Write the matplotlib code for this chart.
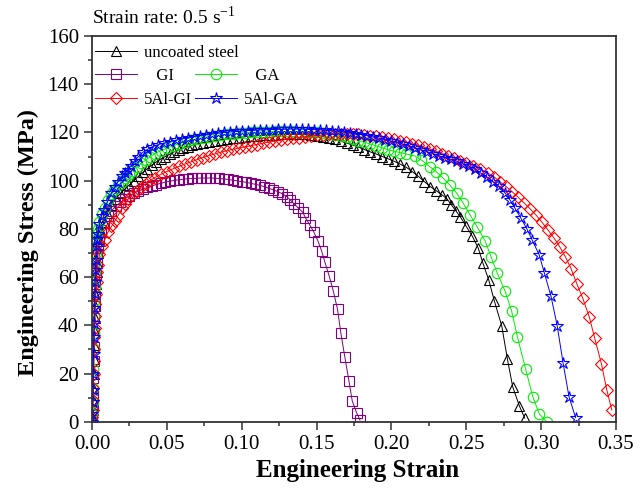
import numpy as np
import matplotlib.pyplot as plt
from matplotlib.ticker import MultipleLocator, FormatStrFormatter

plt.rcParams['font.family'] = ['Liberation Serif', 'DejaVu Serif']
plt.rcParams['mathtext.fontset'] = 'custom'
plt.rcParams['mathtext.rm'] = 'Liberation Serif'

# tensile curves, strain (-) vs stress (MPa)
uncoated_strain = [0.0, 0.0002, 0.0004, 0.0006, 0.0008, 0.001, 0.0012, 0.0014, 0.0016, 0.0018, 0.002, 0.0023,
                   0.0026, 0.003, 0.0035, 0.004, 0.005, 0.006, 0.008, 0.010, 0.013, 0.016, 0.019, 0.022, 0.025,
                   0.028, 0.031, 0.034, 0.037, 0.040, 0.043, 0.046, 0.049, 0.052, 0.055, 0.058, 0.061, 0.064,
                   0.067, 0.070, 0.074, 0.078, 0.082, 0.086, 0.090, 0.094, 0.098, 0.102, 0.106, 0.110, 0.114,
                   0.118, 0.122, 0.126, 0.130, 0.134, 0.138, 0.142, 0.146, 0.150, 0.154, 0.158, 0.162, 0.166,
                   0.170, 0.174, 0.178, 0.182, 0.186, 0.190, 0.194, 0.198, 0.202, 0.206, 0.210, 0.214, 0.218,
                   0.222, 0.226, 0.230, 0.234, 0.237, 0.240, 0.243, 0.246, 0.250, 0.254, 0.258, 0.261, 0.265,
                   0.2687, 0.2737, 0.2775, 0.281, 0.2855, 0.289]
uncoated_stress = [0, 2, 5, 9, 14, 20, 26, 32, 38, 43, 48, 53,
                   57, 62, 66, 70, 75, 78.5, 83, 86.5, 90, 92.5, 94.8, 96.5, 98.3,
                   100, 101.8, 103.4, 105, 106.5, 107.8, 109, 110, 111, 112, 112.8, 113.5, 114.1,
                   114.7, 115.2, 115.8, 116.2, 116.6, 117, 117.3, 117.6, 117.9, 118.2, 118.4, 118.6, 118.8,
                   119, 119.1, 119.2, 119.3, 119.3, 119.3, 119.2, 119, 118.7, 118.3, 117.8, 117.2, 116.4,
                   115.6, 114.8, 113.9, 112.9, 111.9, 111, 110, 109, 108, 106.8, 105.5, 103.7, 101.8,
                   99.6, 97.5, 95.8, 94, 92.5, 90, 87.5, 85, 81, 77, 72, 66, 58.8,
                   50.2, 39.7, 25.9, 14.5, 6.5, 1.5]

gi_strain = [0.0, 0.0002, 0.0004, 0.0006, 0.0008, 0.001, 0.0012, 0.0014, 0.0016, 0.0018, 0.002, 0.0023,
             0.0026, 0.003, 0.0035, 0.004, 0.005, 0.0063, 0.008, 0.0107, 0.013, 0.016, 0.019, 0.022, 0.025,
             0.028, 0.031, 0.034, 0.037, 0.040, 0.043, 0.046, 0.049, 0.052, 0.055, 0.058, 0.061, 0.064,
             0.067, 0.070, 0.073, 0.076, 0.079, 0.082, 0.085, 0.088, 0.091, 0.094, 0.097, 0.100, 0.103,
             0.106, 0.109, 0.112, 0.115, 0.118, 0.121, 0.124, 0.127, 0.130, 0.1325, 0.135, 0.1375, 0.1406,
             0.1426, 0.1455, 0.1482, 0.1509, 0.1533, 0.1556, 0.1584, 0.1611, 0.164, 0.1662, 0.1689, 0.1716,
             0.1738, 0.1767, 0.179]
gi_stress = [0, 3, 7, 12, 18, 25, 31, 37, 43, 48, 52, 57,
             61, 66, 69.5, 72, 76, 79.5, 82.5, 85.5, 87.5, 89.5, 91, 92.5, 93.8,
             94.8, 95.7, 96.5, 97.2, 97.8, 98.4, 98.9, 99.4, 99.8, 100.1, 100.4, 100.6, 100.8,
             100.9, 101, 101.1, 101.1, 101.1, 101, 100.9, 100.7, 100.5, 100.2, 99.9, 99.6, 99.3,
             98.9, 98.5, 98.1, 97.5, 96.9, 96.2, 95.5, 94.6, 93.4, 92, 90.4, 88.8, 87,
             84.6, 81.6, 78.6, 75, 71, 66.1, 60.5, 54.4, 46.6, 36.9, 26.7, 17,
             8.7, 3.7, 0.7]

ga_strain = [0.0, 0.0002, 0.0004, 0.0006, 0.0008, 0.001, 0.0012, 0.0014, 0.0016, 0.0018, 0.002, 0.0023,
             0.0026, 0.003, 0.0035, 0.004, 0.005, 0.0065, 0.0085, 0.011, 0.013, 0.015, 0.0175, 0.0197, 0.022,
             0.0245, 0.027, 0.030, 0.033, 0.036, 0.039, 0.042, 0.046, 0.050, 0.054, 0.058, 0.062, 0.066,
             0.070, 0.074, 0.078, 0.082, 0.086, 0.090, 0.094, 0.098, 0.102, 0.106, 0.110, 0.114, 0.118,
             0.122, 0.126, 0.130, 0.134, 0.138, 0.142, 0.146, 0.150, 0.154, 0.158, 0.162, 0.166, 0.170,
             0.174, 0.178, 0.182, 0.186, 0.190, 0.194, 0.198, 0.202, 0.206, 0.210, 0.2157, 0.220, 0.2257,
             0.230, 0.2346, 0.239, 0.2436, 0.248, 0.2525, 0.2574, 0.2625, 0.2665, 0.2707, 0.2759, 0.2803,
             0.2841, 0.2897, 0.2944, 0.2988, 0.3037]
ga_stress = [0, 3, 8, 14, 22, 30, 37, 44, 50, 56, 62, 66,
             70, 76, 78, 80, 83, 86, 88.5, 92, 94.3, 96, 98, 99.6, 101,
             102.8, 104.2, 105.8, 107.2, 108.6, 110, 111.2, 112.5, 113.5, 114.4, 115.3, 116.1, 116.8,
             117.4, 117.9, 118.3, 118.7, 119, 119.3, 119.5, 119.7, 119.9, 120, 120.1, 120.2, 120.3,
             120.4, 120.4, 120.4, 120.4, 120.3, 120.2, 120.1, 120, 119.8, 119.5, 119.1, 118.6, 118,
             117.3, 116.6, 115.9, 115.2, 114.4, 113.6, 112.8, 112.2, 111.6, 111.1, 110.2, 108.6, 105.8,
             103.7, 101, 98.2, 94.8, 90.6, 85.8, 80.7, 75.1, 68.5, 61.6, 54.2, 45.9,
             35.3, 21.7, 10.4, 3.2, 0]

al_gi_strain = [0.0, 0.0002, 0.0004, 0.0006, 0.0008, 0.001, 0.0012, 0.0014, 0.0016, 0.0018, 0.002, 0.0023,
                0.0026, 0.003, 0.0035, 0.004, 0.005, 0.0065, 0.0085, 0.0105, 0.013, 0.0152, 0.0174, 0.020,
                0.022, 0.024, 0.027, 0.030, 0.033, 0.036, 0.039, 0.042, 0.046, 0.050, 0.054, 0.058, 0.062,
                0.066, 0.070, 0.074, 0.078, 0.082, 0.086, 0.090, 0.094, 0.098, 0.102, 0.106, 0.110, 0.114,
                0.118, 0.122, 0.126, 0.130, 0.134, 0.138, 0.142, 0.146, 0.150, 0.154, 0.158, 0.162, 0.166,
                0.170, 0.174, 0.178, 0.182, 0.186, 0.190, 0.194, 0.198, 0.202, 0.206, 0.210, 0.214, 0.218,
                0.222, 0.226, 0.230, 0.234, 0.238, 0.242, 0.246, 0.250, 0.2547, 0.259, 0.2647, 0.2685, 0.2725,
                0.2765, 0.2805, 0.2845, 0.2885, 0.2925, 0.2965, 0.3005, 0.3045, 0.3085, 0.3125, 0.3162, 0.3200,
                0.3238, 0.3278, 0.3322, 0.3358, 0.3403, 0.3438, 0.3472]
al_gi_stress = [0, 2, 5, 9, 14, 20, 25, 30, 35, 39, 44, 49,
                53, 58, 62, 65, 69.5, 73, 75.4, 78.5, 81, 83.2, 85.5, 88.5,
                90.5, 92.3, 94.2, 95.9, 97.4, 98.8, 100.1, 101.3, 102.6, 103.8, 104.9, 105.9, 106.9,
                107.8, 108.7, 109.6, 110.4, 111.1, 111.8, 112.4, 113, 113.5, 114, 114.5, 115, 115.5,
                116, 116.4, 116.8, 117.2, 117.6, 117.9, 118.2, 118.5, 118.8, 119, 119.2, 119.3, 119.4,
                119.4, 119.3, 119.2, 119, 118.7, 118.4, 118, 117.6, 117.1, 116.6, 116, 115.3, 114.6,
                113.8, 113, 112.1, 111.2, 110.3, 109.3, 108.3, 107.3, 106.2, 105, 103, 101.6, 99.5,
                97.6, 95.5, 93.2, 90.8, 88.4, 85.8, 82.8, 79.6, 76.3, 72.5, 68.4, 63.5,
                57.3, 51.2, 43.4, 34.6, 24, 13.3, 4.9]

al_ga_strain = [0.0, 0.0002, 0.0004, 0.0006, 0.0008, 0.001, 0.0012, 0.0014, 0.0016, 0.0018, 0.002, 0.0023,
                0.0026, 0.003, 0.0035, 0.004, 0.005, 0.0065, 0.008, 0.010, 0.013, 0.0155, 0.0174, 0.020,
                0.022, 0.024, 0.026, 0.0285, 0.031, 0.034, 0.037, 0.040, 0.044, 0.048, 0.052, 0.056, 0.060,
                0.064, 0.068, 0.072, 0.076, 0.080, 0.084, 0.088, 0.092, 0.096, 0.100, 0.104, 0.108, 0.112,
                0.116, 0.120, 0.124, 0.128, 0.132, 0.136, 0.140, 0.144, 0.148, 0.152, 0.156, 0.160, 0.164,
                0.168, 0.172, 0.176, 0.180, 0.184, 0.188, 0.192, 0.196, 0.200, 0.204, 0.208, 0.212, 0.216,
                0.220, 0.224, 0.228, 0.232, 0.236, 0.240, 0.244, 0.248, 0.252, 0.256, 0.260, 0.264, 0.268,
                0.272, 0.276, 0.2792, 0.2826, 0.2865, 0.2904, 0.294, 0.2987, 0.3022, 0.3066, 0.3107, 0.3147,
                0.3186, 0.323]
al_ga_stress = [0, 3, 8, 13, 20, 28, 35, 41, 47, 53, 58, 63,
                67, 73, 76, 78, 82, 85.5, 88, 91, 94.8, 97.5, 99.6, 101.8,
                103.3, 104.6, 106.2, 108.3, 110, 111.8, 113, 114, 114.9, 115.6, 116.2, 116.8, 117.3,
                117.8, 118.3, 118.7, 119.1, 119.4, 119.7, 120, 120.2, 120.4, 120.6, 120.8, 120.9, 121,
                121.1, 121.2, 121.3, 121.3, 121.4, 121.4, 121.4, 121.3, 121.2, 121.1, 120.9, 120.7, 120.5,
                120.2, 119.9, 119.5, 119.1, 118.6, 118.1, 117.6, 117, 116.4, 115.8, 115.1, 114.4, 113.6,
                112.8, 112, 111.2, 110.3, 109.5, 108.8, 108, 107, 106, 104.8, 103, 101.5, 99.5,
                97.6, 94.8, 92, 88.5, 84.4, 80.1, 75.4, 69.2, 61.6, 52, 39.9, 24.2,
                10.4, 1.7]

series = [
    ('uncoated steel', uncoated_strain, uncoated_stress, 'black', '^', 7.5),
    ('GI', gi_strain, gi_stress, 'purple', 's', 6.5),
    ('GA', ga_strain, ga_stress, '#00ee00', 'o', 7.5),
    ('5Al-GI', al_gi_strain, al_gi_stress, 'red', 'D', 6.5),
    ('5Al-GA', al_ga_strain, al_ga_stress, 'blue', '*', 9),
]

fig = plt.figure(figsize=(6.43, 4.93), dpi=100)
ax = fig.add_axes([0.1431, 0.1446, 0.8149, 0.7823])

handles = {}
for name, x, y, c, m, ms in series:
    h, = ax.plot(x, y, color=c, lw=0.7, marker=m, ms=ms, mfc='none', mec=c, mew=0.8)
    handles[name] = h

ax.set_xlim(0, 0.35)
ax.set_ylim(0, 160)
ax.xaxis.set_major_locator(MultipleLocator(0.05))
ax.xaxis.set_minor_locator(MultipleLocator(0.025))
ax.xaxis.set_major_formatter(FormatStrFormatter('%.2f'))
ax.yaxis.set_major_locator(MultipleLocator(20))
ax.yaxis.set_minor_locator(MultipleLocator(10))
ax.tick_params(which='both', direction='out', width=1.1, colors='#333333', labelcolor='black', labelsize=15)
ax.tick_params(which='major', length=5.5, pad=4)
ax.tick_params(which='minor', length=3)
for s in ax.spines.values():
    s.set_color('#333333')
    s.set_linewidth(1.3)

ax.set_xlabel('Engineering Strain', fontsize=18, fontweight='bold')
ax.set_ylabel('Engineering Stress (MPa)', fontsize=17.5, fontweight='bold')
ax.xaxis.set_label_coords(0.507, -0.097)
ax.yaxis.set_label_coords(-0.102, 0.465)

ax.text(0.0, 1.02, 'Strain rate: 0.5 s$^{-1}$', transform=ax.transAxes, fontsize=14,
        ha='left', va='bottom')

leg1 = ax.legend([handles['uncoated steel']], ['uncoated steel'], loc='upper left',
                 bbox_to_anchor=(0.0, 0.985), frameon=False, fontsize=12, handlelength=2.5,
                 handletextpad=0.4, borderpad=0.2, borderaxespad=0.0)
ax.add_artist(leg1)
ax.legend([handles['GI'], handles['5Al-GI'], handles['GA'], handles['5Al-GA']],
          ['   GI', '5Al-GI', '   GA', '5Al-GA'], ncol=2, loc='upper left',
          bbox_to_anchor=(0.0, 0.925), frameon=False, fontsize=12, handlelength=2.5,
          handletextpad=0.4, columnspacing=0.2, labelspacing=0.45, borderpad=0.2,
          borderaxespad=0.0)

fig.savefig('out.png', dpi=100)
